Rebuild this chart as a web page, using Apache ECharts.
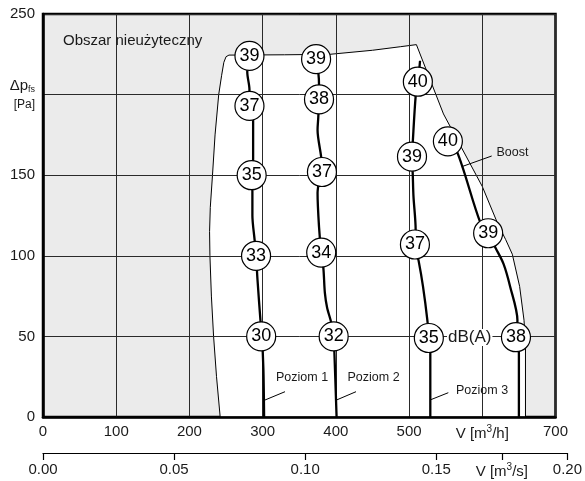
<!DOCTYPE html>
<html>
<head>
<meta charset="utf-8">
<script src="https://cdn.jsdelivr.net/npm/echarts@6/dist/echarts.min.js"></script>
<style>
html,body{margin:0;padding:0;background:#fff;}
#c{width:585px;height:481px;}
</style>
</head>
<body>
<div id="c"></div>
<script>
// ---- data (flow V in m3/h, pressure in Pa) ----
const flowTicks = [0, 100, 200, 300, 400, 500, 600, 700];
const pressureTicks = [0, 50, 100, 150, 200, 250];
const flowSecondTicks = [0, 0.05, 0.10, 0.15, 0.175, 0.20];

// usable-area boundary (white region)
const boundary = [[242,0],[237,25],[233,50],[230,75],[228,100],[227.5,115],[228.5,130],[231.5,150],[235,175],[240,200],[244,212],[247,220],[250,223.5],[254,224.5],[330,224.7],[392,225],[450,227.5],[488,229.7],[510,231],[547,188],[600,143],[621,120],[632,110],[641,101],[651,81],[657,60],[659,44],[659,0]];

const poziom1 = [[302,0],[301,30],[299,50],[297,60],[293,85],[291,100],[289,110],[286,125],[286,140],[285,150],[287,160],[287,185],[282,193],[282,203],[279,214],[282,224]];
const poziom2 = [[401,0],[398,40],[397,50],[394,58],[388,68],[385,77],[383,92],[380,102],[377,118],[375,139],[378,148],[381,152],[380,161],[375,178],[376,186],[377,197],[377,206],[376,214],[373,222]];
const poziom3 = [[529,0],[529,40],[527,49],[525,60],[519,81],[513,97],[508,107],[509,116],[506,137],[505,151],[504,161],[505,170],[509,199],[512,208],[514,216],[515,221]];
const boost   = [[650,0],[650,40],[646,49],[648,60],[638,81],[629,95],[618,105],[608,114],[597,121],[566,164],[553,171]];

// sound level markers [V, p, dB(A)]
const marks1 = [[298,50,30],[291,100,33],[285,150,35],[282,193,37],[282,224,39]];
const marks2 = [[397,50,32],[380,102,34],[381,152,37],[377,197,38],[373,222,39]];
const marks3 = [[527,49,35],[508,107,37],[504,161.5,39],[512,208,40]];
const marksB = [[646,49.5,38],[608,114,39],[553,171,40]];

const FONT = 'Liberation Sans, Arial, sans-serif';
const TXT = '#1a1a1a';

const chart = echarts.init(document.getElementById('c'), null, {renderer: 'canvas'});

function curve(d) {
  return {
    type: 'line', xAxisIndex: 0, yAxisIndex: 0, data: d, z: 4,
    showSymbol: false, smooth: 0.3, silent: true, clip: false,
    lineStyle: {color: '#000', width: 2.3}
  };
}
function marks(d) {
  return {
    type: 'scatter', xAxisIndex: 0, yAxisIndex: 0, data: d, z: 5, silent: true,
    symbol: 'circle', symbolSize: 29,
    itemStyle: {color: '#fff', borderColor: '#000', borderWidth: 1.2, opacity: 1},
    label: {show: true, position: 'inside', formatter: p => String(p.value[2]),
      fontSize: 18, color: '#000', fontFamily: FONT}
  };
}

const option = {
  animation: false,
  backgroundColor: '#fff',
  grid: [
    {left: 43, right: 29.5, top: 14, bottom: 64, show: true,
     backgroundColor: '#ebebeb', borderColor: '#000', borderWidth: 2.5},
    {left: 43, right: 15.4, top: 452, height: 1, show: false}
  ],
  xAxis: [
    {type: 'value', gridIndex: 0, min: flowTicks[0], max: flowTicks[flowTicks.length-1], interval: 100, z: 3,
     axisLine: {show: true, onZero: false, lineStyle: {color: '#000', width: 2.5}},
     axisTick: {show: false},
     splitLine: {show: true, lineStyle: {color: '#2a2a2a', width: 1}},
     axisLabel: {margin: 7, fontSize: 15, color: TXT, fontFamily: FONT,
       formatter: v => v === 600 ? '{n|V [m}{sup|3}{n|/h]}' : String(v),
       rich: {n: {fontSize: 15, fontFamily: FONT, color: TXT, lineHeight: 17, verticalAlign: 'bottom'},
              sup: {fontSize: 10, fontFamily: FONT, color: TXT, lineHeight: 10, verticalAlign: 'top'}}}
    },
    {type: 'value', gridIndex: 1, min: 0, max: 0.2, z: 3,
     axisLine: {show: true, onZero: false, lineStyle: {color: '#000', width: 1.2}},
     axisTick: {show: true, length: 7, lineStyle: {color: '#000', width: 1.2}, customValues: flowSecondTicks},
     splitLine: {show: false},
     axisLabel: {margin: 9, fontSize: 15, color: TXT, fontFamily: FONT, customValues: flowSecondTicks,
       formatter: v => Math.abs(v - 0.175) < 1e-9 ? '{n|V [m}{sup|3}{n|/s]}' : Number(v).toFixed(2),
       rich: {n: {fontSize: 15, fontFamily: FONT, color: TXT, lineHeight: 17, verticalAlign: 'bottom'},
              sup: {fontSize: 10, fontFamily: FONT, color: TXT, lineHeight: 10, verticalAlign: 'top'}}}
    }
  ],
  yAxis: [
    {type: 'value', gridIndex: 0, min: pressureTicks[0], max: pressureTicks[pressureTicks.length-1], interval: 50, z: 3,
     axisLine: {show: true, onZero: false, lineStyle: {color: '#000', width: 2.5}},
     axisTick: {show: false},
     splitLine: {show: true, lineStyle: {color: '#2a2a2a', width: 1}},
     axisLabel: {margin: 8, fontSize: 15, color: TXT, fontFamily: FONT,
       formatter: v => v === 200 ? '{d|Δp}{sub|fs}\n{pa|[Pa]}' : String(v),
       rich: {d: {fontSize: 15, fontFamily: FONT, color: TXT, lineHeight: 20, verticalAlign: 'bottom'},
              sub: {fontSize: 9, fontFamily: FONT, color: TXT, lineHeight: 9, verticalAlign: 'bottom'},
              pa: {fontSize: 12, fontFamily: FONT, color: TXT, lineHeight: 22}}}
    },
    {type: 'value', gridIndex: 1, show: false, min: 0, max: 1}
  ],
  graphic: [
    {type: 'text', left: 63, top: 33, z: 10, silent: true,
     style: {text: 'Obszar nieużyteczny', font: '15px ' + FONT, fill: TXT}},
    {type: 'text', left: 276, top: 371, z: 10, silent: true,
     style: {text: 'Poziom 1', font: '12.5px ' + FONT, fill: TXT}},
    {type: 'text', left: 347.5, top: 371, z: 10, silent: true,
     style: {text: 'Poziom 2', font: '12.5px ' + FONT, fill: TXT}},
    {type: 'text', left: 456, top: 384.5, z: 10, silent: true,
     style: {text: 'Poziom 3', font: '12.5px ' + FONT, fill: TXT}},
    {type: 'text', left: 496.5, top: 146, z: 10, silent: true,
     style: {text: 'Boost', font: '12.5px ' + FONT, fill: TXT}},
    {type: 'text', left: 447, top: 329, z: 10, silent: true,
     style: {text: 'dB(A)', font: '17px ' + FONT, fill: TXT, backgroundColor: '#fff', padding: [0, 1]}},
    {type: 'line', z: 10, silent: true, shape: {x1: 285, y1: 391.7, x2: 265, y2: 400}, style: {stroke: '#000', lineWidth: 1}},
    {type: 'line', z: 10, silent: true, shape: {x1: 356, y1: 391.7, x2: 336.5, y2: 400}, style: {stroke: '#000', lineWidth: 1}},
    {type: 'line', z: 10, silent: true, shape: {x1: 448.3, y1: 392.7, x2: 430, y2: 400}, style: {stroke: '#000', lineWidth: 1}},
    {type: 'line', z: 10, silent: true, shape: {x1: 491.7, y1: 156, x2: 461.7, y2: 166.7}, style: {stroke: '#000', lineWidth: 1}}
  ],
  series: [
    {type: 'custom', xAxisIndex: 0, yAxisIndex: 0, z: 1, silent: true, data: [[0, 0]],
     renderItem: (params, api) => ({
       type: 'polygon',
       shape: {points: boundary.map(p => api.coord(p))},
       style: {fill: '#fff', stroke: '#000', lineWidth: 1}
     })},
    curve(poziom1), curve(poziom2), curve(poziom3), curve(boost),
    marks(marks1), marks(marks2), marks(marks3), marks(marksB)
  ]
};
chart.setOption(option);
</script>
</body>
</html>
